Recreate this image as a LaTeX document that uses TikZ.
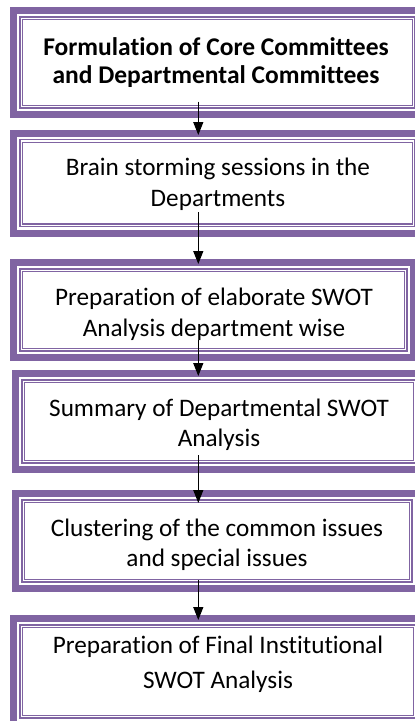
\documentclass[tikz,border=0pt]{standalone}
\usepackage{fontspec}
\setmainfont{Carlito}[Ligatures=NoCommon]
\usetikzlibrary{arrows.meta,calc,backgrounds}
\definecolor{purp}{HTML}{8064A2}
\begin{document}
\begin{tikzpicture}[x=1pt,y=-1pt,
  frame/.style={rectangle, inner sep=0pt, outer sep=0pt, draw=none},
  txt/.style={inner sep=0pt, align=center, anchor=base, font=\fontsize{25.2}{28}\selectfont},
  arr/.style={line width=1.3pt, black, -{Triangle[length=13pt,width=10pt]}}]
\useasboundingbox (0,0) rectangle (415,721);
% frames (outer extents)
\node[frame, minimum width=415pt, minimum height=111pt]   (b1) at (217.5,62.5) {};
\node[frame, minimum width=415pt, minimum height=107.2pt] (b2) at (217.5,183.1) {};
\node[frame, minimum width=407pt, minimum height=102pt]   (b3) at (213.5,310) {};
\node[frame, minimum width=414pt, minimum height=103pt]   (b4) at (219,421.5) {};
\node[frame, minimum width=410pt, minimum height=102pt]   (b5) at (217,541) {};
\node[frame, minimum width=416pt, minimum height=113pt]   (b6) at (218,671.5) {};
% texts (anchored at the baseline of the last line)
\node[txt, font=\fontsize{25.5}{28}\selectfont\bfseries] (t1) at (216,83.3) {Formulation of Core Committees\\[0.3pt]and Departmental Committees};
\node[txt] (t2) at (218,206) {Brain storming sessions in the\\[3pt]Departments};
\node[txt] (t3) at (214,336) {Preparation of elaborate SWOT\\[3pt]Analysis department wise};
\node[txt] (t4) at (219,446) {Summary of Departmental SWOT\\[2pt]Analysis};
\node[txt] (t5) at (217,566) {Clustering of the common issues\\[1.3pt]and special issues};
\node[txt] (t6) at (218,688.3) {Preparation of Final Institutional\\[7pt]SWOT Analysis};
\begin{scope}[on background layer]
\foreach \n in {b1,b2,b3,b4,b5,b6}{
  \fill[purp] (\n.north west) rectangle (\n.south east);
  \fill[white] ($(\n.north west)+(7,7)$) rectangle ($(\n.south east)+(-7,-7)$);
  \draw[purp, line width=1.1pt] ($(\n.north west)+(10,10)$) rectangle ($(\n.south east)+(-10,-10)$);
  \draw[purp, line width=1.2pt] ($(\n.north west)+(12.8,12.8)$) rectangle ($(\n.south east)+(-12.8,-12.8)$);
}
\end{scope}
\coordinate (ax) at (198.3,0);
\draw[arr] ($(b1.south -| ax)+(0,-16.3)$) -- ($(b2.north -| ax)+(0,5.5)$);
\draw[arr] ($(b2.south -| ax)+(0,-24.7)$) -- ($(b3.north -| ax)+(0,5)$);
\draw[arr] ($(b3.south -| ax)+(0,-21)$) -- ($(b4.north -| ax)+(0,6)$);
\draw[arr] ($(b4.south -| ax)+(0,-18)$) -- ($(b5.north -| ax)+(0,13)$);
\draw[arr] ($(b5.south -| ax)+(0,-12)$) -- ($(b6.north -| ax)+(0,5)$);
\end{tikzpicture}
\end{document}
